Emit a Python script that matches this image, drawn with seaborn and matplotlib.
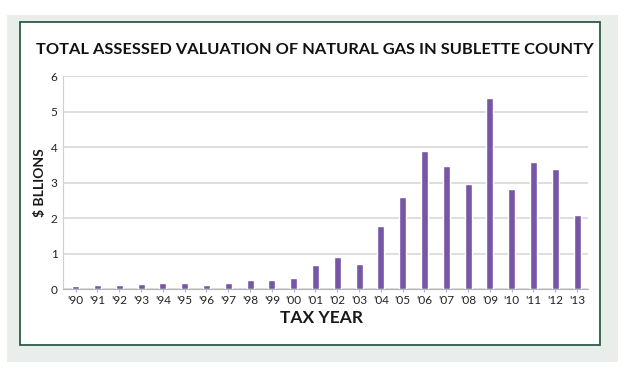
import matplotlib
matplotlib.use("Agg")
import matplotlib.pyplot as plt
import seaborn as sns
import pandas as pd
from matplotlib.patches import Rectangle

years = ["'90", "'91", "'92", "'93", "'94", "'95", "'96", "'97", "'98", "'99", "'00",
         "'01", "'02", "'03", "'04", "'05", "'06", "'07", "'08", "'09", "'10", "'11",
         "'12", "'13"]
values = [0.09, 0.11, 0.11, 0.13, 0.17, 0.16, 0.11, 0.16, 0.25, 0.25, 0.32,
          0.67, 0.89, 0.70, 1.78, 2.58, 3.89, 3.46, 2.97, 5.37, 2.81, 3.58,
          3.39, 2.09]
y_ticks = [0, 1, 2, 3, 4, 5, 6]

sns.set_style("white")
plt.rcParams["font.family"] = ["Lato", "DejaVu Sans"]

df = pd.DataFrame({"year": years, "value": values})

fig = plt.figure(figsize=(6.25, 3.9), dpi=100)
W, H = 625, 390

# outer light panel and inner framed box (behind the axes)
fig.patches.append(Rectangle((7 / W, 1 - 362 / H), 611 / W, 347 / H,
                             transform=fig.transFigure, facecolor="#e9eeea",
                             edgecolor="none", zorder=-2))
fig.patches.append(Rectangle((20 / W, 1 - 345 / H), 580 / W, 323 / H,
                             transform=fig.transFigure, facecolor="white",
                             edgecolor="#2e5b48", linewidth=1.3, zorder=-1))

ax = fig.add_axes([63 / W, 1 - 289 / H, (588 - 63) / W, (289 - 76) / H])
ax.patch.set_alpha(0)

sns.barplot(data=df, x="year", y="value", color="#7856a6", width=0.32,
            saturation=1, ax=ax, zorder=3)

ax.set_ylim(0, 6)
ax.set_xlim(-0.58, 23.5)
ax.set_yticks(y_ticks)
ax.yaxis.grid(True, color="#d4d4d4", linewidth=1.1, zorder=0)
ax.set_axisbelow(True)

for s in ["top", "right"]:
    ax.spines[s].set_visible(False)
ax.spines["left"].set_color("#cfcfcf")
ax.spines["bottom"].set_color("#b5b5b5")
ax.tick_params(axis="x", labelsize=8.5, colors="#222222", length=2, pad=2,
               bottom=True, color="#b5b5b5")
ax.tick_params(axis="y", labelsize=8.5, colors="#222222", length=0, pad=4)

ax.set_xlabel("")
ax.set_ylabel("")
fig.text(40 / W, 1 - 183 / H, "$ BLLIONS", rotation=90, ha="center", va="center",
         fontsize=10, fontweight="bold", color="#1a1a1a")
fig.text(322 / W, 1 - 318 / H, "TAX YEAR", ha="center", va="center",
         fontsize=12.5, fontweight="bold", color="#1a1a1a")
fig.text(315 / W, 1 - 50 / H, "TOTAL ASSESSED VALUATION OF NATURAL GAS IN SUBLETTE COUNTY",
         ha="center", va="center", fontsize=11.8, fontweight="bold", color="#111111")

fig.savefig("out.png", dpi=100, facecolor="white")
